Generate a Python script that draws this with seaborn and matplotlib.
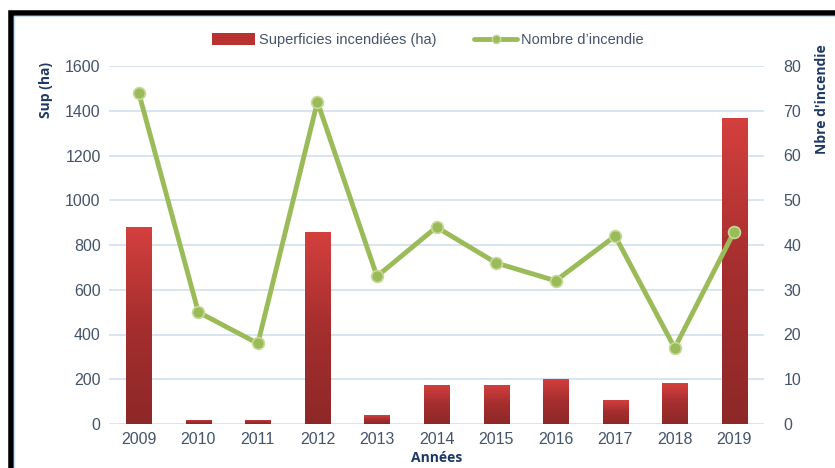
import matplotlib
matplotlib.use("Agg")
import matplotlib.pyplot as plt
import seaborn as sns
import numpy as np
import pandas as pd
from matplotlib.patches import Rectangle
from matplotlib.lines import Line2D
from matplotlib.colors import LinearSegmentedColormap

years = ["2009", "2010", "2011", "2012", "2013", "2014", "2015", "2016", "2017", "2018", "2019"]
area_ha = [882, 20, 20, 860, 40, 175, 175, 202, 108, 183, 1368]
n_fires = [74, 25, 18, 72, 33, 44, 36, 32, 42, 17, 43]
left_ticks = [0, 200, 400, 600, 800, 1000, 1200, 1400, 1600]
right_ticks = [0, 10, 20, 30, 40, 50, 60, 70, 80]

df = pd.DataFrame({"year": years, "area": area_ha, "fires": n_fires})

sns.set_style("white")
plt.rcParams["font.family"] = ["Liberation Sans Narrow", "Liberation Sans", "DejaVu Sans"]

W, H = 835, 468
fig = plt.figure(figsize=(W / 100, H / 100), dpi=100)
ax = fig.add_axes([109 / W, 1 - 424 / H, (764 - 109) / W, (424 - 66) / H])

tick_color = "#44546A"
label_color = "#1F3864"
grid_color = "#D6E2F2"
label_font = ["Open Sans", "DejaVu Sans"]

sns.barplot(data=df, x="year", y="area", ax=ax, color="#B83232", width=0.42,
            saturation=1, zorder=3)
ax.set_ylim(0, 1600)
ax.set_xlim(-0.5, 10.5)
ax.set_yticks(left_ticks)
ax.yaxis.grid(True, color=grid_color, linewidth=1.3, zorder=0)
ax.set_axisbelow(True)
for s in ax.spines.values():
    s.set_visible(False)

# gradient fill for bars
cmap = LinearSegmentedColormap.from_list("redgrad", ["#8E2828", "#A52E2E", "#D4403E"])
grad = np.linspace(0, 1, 256).reshape(-1, 1)
for p in list(ax.patches):
    x0, y0 = p.get_x(), p.get_y()
    w, h = p.get_width(), p.get_height()
    p.set_facecolor("none")
    p.set_edgecolor("none")
    im = ax.imshow(grad, cmap=cmap, aspect="auto", origin="lower",
                   extent=[x0, x0 + w, y0, y0 + h], zorder=3)
    clip = Rectangle((x0, y0), w, h, transform=ax.transData)
    im.set_clip_path(clip)
ax.set_xlim(-0.5, 10.5)
ax.set_ylim(0, 1600)

ax.tick_params(axis="both", length=0, labelsize=11.5, colors=tick_color, pad=6)
ax.set_xlabel("Années", fontsize=10, fontweight="bold", color=label_color,
              family=label_font, labelpad=2.5)
ax.set_ylabel("Sup (ha)", fontsize=10, fontweight="bold", color=label_color,
              family=label_font, loc="top")
ax.yaxis.set_label_coords(-0.085, 1.01)

ax2 = ax.twinx()
sns.pointplot(data=df, x="year", y="fires", ax=ax2, color="#9BBB59",
              markers="o", linewidth=3.5, markersize=8.5, zorder=5)
for ln in ax2.lines:
    ln.set_markeredgecolor("#C5DA9A")
    ln.set_markeredgewidth(1.2)
    ln.set_solid_capstyle("round")
ax2.set_ylim(0, 80)
ax2.set_xlim(-0.5, 10.5)
ax2.set_yticks(right_ticks)
ax2.tick_params(axis="y", length=0, labelsize=11.5, colors=tick_color, pad=14)
ax2.set_ylabel("Nbre d'incendie", fontsize=10, fontweight="bold", color=label_color,
               family=label_font, loc="top")
ax2.yaxis.set_label_coords(1.078, 1.06)
ax2.grid(False)
for s in ax2.spines.values():
    s.set_visible(False)

handles = [
    Rectangle((0, 0), 1, 1, facecolor="#B83232", edgecolor="none"),
    Line2D([0], [0], color="#9BBB59", linewidth=3.5, marker="o", markersize=6,
           markerfacecolor="#9BBB59", markeredgecolor="#C5DA9A"),
]
fig.legend(handles, ["Superficies incendiées (ha)", "Nombre d’incendie"],
           loc="center", bbox_to_anchor=(428 / W, 1 - 40 / H), ncol=2, frameon=False,
           fontsize=10.5, labelcolor=tick_color, handlelength=2.9, handleheight=0.8,
           columnspacing=2.6, handletextpad=0.3)

# outer frame
fig.add_artist(Rectangle((10.5 / W, -0.1), 1.2, (H - 12.5) / H + 0.1,
                         transform=fig.transFigure, fill=False,
                         edgecolor="black", linewidth=4))
fig.add_artist(Rectangle((14 / W, -0.1), 1.2, (H - 16) / H + 0.1,
                         transform=fig.transFigure, fill=False,
                         edgecolor="#C9DDF0", linewidth=1))

fig.savefig("out.png", dpi=100)
